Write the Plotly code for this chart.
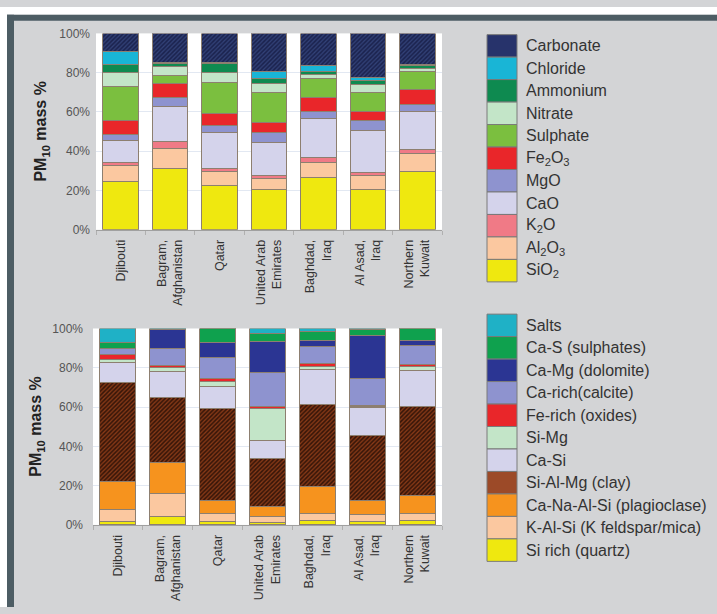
import plotly.graph_objects as go

W, H = 717, 614
FONT = "Liberation Sans, Arial, sans-serif"

sites = ["Djibouti", "Bagram,<br>Afghanistan", "Qatar", "United Arab<br>Emirates",
         "Baghdad,<br>Iraq", "Al Asad,<br>Iraq", "Northern<br>Kuwait"]
y_ticks = [0, 20, 40, 60, 80, 100]
y_tick_labels = ["0%", "20%", "40%", "60%", "80%", "100%"]

# ---- Top panel: bulk chemistry, % of PM10 mass (stack order bottom -> top)
sio2 = [24.5, 31.0, 22.6, 20.3, 26.7, 20.5, 29.6]
al2o3 = [8.0, 10.5, 7.0, 5.6, 7.8, 7.1, 9.0]
k2o = [2.0, 3.7, 1.8, 1.5, 2.2, 1.7, 2.2]
cao = [11.0, 17.5, 18.3, 17.1, 20.0, 21.3, 19.4]
mgo = [3.0, 4.5, 3.5, 4.9, 3.5, 4.8, 3.8]
fe2o3 = [7.0, 7.3, 5.8, 5.2, 7.3, 4.6, 7.5]
sulphate = [17.5, 4.3, 15.8, 15.2, 9.5, 10.0, 9.2]
nitrate = [7.0, 4.5, 5.4, 4.8, 2.2, 3.8, 1.4]
ammonium = [4.0, 1.2, 4.5, 2.3, 1.2, 2.0, 1.3]
chloride = [7.0, 0.8, 0.6, 3.5, 3.2, 1.7, 0.6]
carbonate = [9.0, 14.7, 14.7, 19.6, 16.4, 22.5, 16.0]

# ---- Bottom panel: mineral classes, % of PM10 mass (stack order bottom -> top)
quartz = [1.6, 4.5, 1.7, 1.3, 2.0, 1.7, 2.0]
k_al_si = [6.2, 11.5, 4.1, 2.8, 3.8, 3.8, 3.8]
plagioclase = [14.1, 15.8, 6.6, 5.4, 13.8, 6.9, 9.1]
clay = [50.7, 33.2, 47.0, 24.5, 41.8, 33.2, 45.6]
ca_si = [10.0, 13.3, 11.1, 9.1, 17.9, 14.1, 18.3]
si_mg = [1.5, 1.6, 2.5, 16.3, 1.5, 0.4, 1.6]
fe_rich = [2.5, 1.3, 1.6, 1.1, 1.3, 0.9, 1.4]
calcite = [3.0, 8.7, 10.6, 17.1, 8.8, 13.6, 9.7]
dolomite = [0.3, 9.4, 7.7, 15.6, 2.8, 21.9, 2.2]
ca_s = [2.8, 0.4, 7.1, 4.3, 4.6, 3.0, 6.3]
salts = [7.3, 0.3, 0.0, 2.5, 1.7, 0.5, 0.0]

# (label, values, color, pattern) – bottom of stack first
top_series = [
    ("SiO<sub>2</sub>", sio2, "#efe80f", None),
    ("Al<sub>2</sub>O<sub>3</sub>", al2o3, "#fbc8a0", None),
    ("K<sub>2</sub>O", k2o, "#f07a86", None),
    ("CaO", cao, "#d4d3eb", None),
    ("MgO", mgo, "#8e93cf", None),
    ("Fe<sub>2</sub>O<sub>3</sub>", fe2o3, "#e9262a", None),
    ("Sulphate", sulphate, "#7bbf3f", None),
    ("Nitrate", nitrate, "#c3e5c8", None),
    ("Ammonium", ammonium, "#0e8a50", None),
    ("Chloride", chloride, "#19b5d6", None),
    ("Carbonate", carbonate, "#27336b", ("#1c2450", "#33437a")),
]
bottom_series = [
    ("Si rich (quartz)", quartz, "#efe80f", None),
    ("K-Al-Si (K feldspar/mica)", k_al_si, "#fbc8a0", None),
    ("Ca-Na-Al-Si (plagioclase)", plagioclase, "#f6931e", None),
    ("Si-Al-Mg (clay)", clay, "#9c4a28", ("#3a1709", "#8e3c18")),
    ("Ca-Si", ca_si, "#d4d3eb", None),
    ("Si-Mg", si_mg, "#c3e5c8", None),
    ("Fe-rich (oxides)", fe_rich, "#e9262a", None),
    ("Ca-rich(calcite)", calcite, "#8e93cf", None),
    ("Ca-Mg (dolomite)", dolomite, "#2b3593", None),
    ("Ca-S (sulphates)", ca_s, "#0fa14e", None),
    ("Salts", salts, "#1fb1c6", None),
]


def px(x):
    return x / W


def py(y):
    return 1 - y / H


fig = go.Figure()

for series, xa, ya in [(top_series, "x", "y"), (bottom_series, "x2", "y2")]:
    for name, vals, color, pat in series:
        marker = dict(color=color, line=dict(color="#8d7f70", width=1))
        if pat:
            marker["pattern"] = dict(shape="/", size=3, solidity=0.4,
                                     bgcolor=pat[0], fgcolor=pat[1], fillmode="replace")
        fig.add_trace(go.Bar(x=sites, y=vals, name=name, marker=marker,
                             width=0.72, xaxis=xa, yaxis=ya, showlegend=False,
                             hoverinfo="skip"))

shapes = []
annotations = []

# page frame
shapes += [
    dict(type="rect", xref="paper", yref="paper", x0=0, x1=1, y0=py(8), y1=1,
         fillcolor="white", line=dict(width=0), layer="below"),
    dict(type="rect", xref="paper", yref="paper", x0=0, x1=px(7), y0=0, y1=1,
         fillcolor="white", line=dict(width=0), layer="below"),
    dict(type="rect", xref="paper", yref="paper", x0=px(7), x1=1, y0=py(14), y1=py(8),
         fillcolor="#4d5d64", line=dict(width=0), layer="below"),
    dict(type="rect", xref="paper", yref="paper", x0=px(7), x1=px(14), y0=0, y1=py(8),
         fillcolor="#4d5d64", line=dict(width=0), layer="below"),
]

# manual legends (swatch boxes + labels), listed top -> bottom
for series, top_px in [(top_series, 28.3), (bottom_series, 314.3)]:
    step = 23.0
    for i, (name, vals, color, pat) in enumerate(reversed(series)):
        y0 = top_px + i * step
        shapes.append(dict(type="rect", xref="paper", yref="paper",
                           x0=px(487), x1=px(517), y0=py(y0 + step), y1=py(y0),
                           fillcolor=color, line=dict(color="#7a7a7a", width=1)))
        annotations.append(dict(xref="paper", yref="paper", x=px(524), y=py(y0 + step / 2),
                                text=name, showarrow=False, xanchor="left", yanchor="middle",
                                font=dict(family=FONT, size=16, color="#333333")))

# y-axis titles
for xc, yc in [(42, 127.5), (37, 429.5)]:
    annotations.append(dict(xref="paper", yref="paper", x=px(xc), y=py(yc),
                            text="<b>PM<sub>10</sub> mass %</b>", textangle=-90,
                            showarrow=False, xanchor="center", yanchor="middle",
                            font=dict(family=FONT, size=16, color="#222222")))

xax = dict(type="category", showgrid=False, showline=True, linecolor="#a0a0a0",
           ticks="outside", ticklen=4, tickcolor="#b0b0b0", tickson="boundaries",
           tickangle=-90, tickfont=dict(family=FONT, size=12.5, color="#333333"),
           ticklabelstandoff=4, fixedrange=True)
yax = dict(range=[0, 100], tickmode="array", tickvals=y_ticks, ticktext=y_tick_labels,
           showgrid=True, gridcolor="#e2e8f2", gridwidth=1, zeroline=False, showline=False,
           tickfont=dict(family=FONT, size=12, color="#555555"), ticks="",
           fixedrange=True)

fig.update_layout(
    width=W, height=H,
    margin=dict(l=0, r=0, t=0, b=0),
    paper_bgcolor="#d3d4d6",
    plot_bgcolor="white",
    barmode="stack",
    bargap=0.28,
    showlegend=False,
    xaxis=dict(xax, domain=[px(96), px(442)], anchor="y"),
    yaxis=dict(yax, domain=[py(228), py(27)], anchor="x", ticklabelstandoff=5),
    xaxis2=dict(xax, domain=[px(93), px(442)], anchor="y2"),
    yaxis2=dict(yax, domain=[py(530), py(329)], anchor="x2", ticklabelstandoff=9),
    shapes=shapes,
    annotations=annotations,
    font=dict(family=FONT),
)

fig.write_html("out.html")
